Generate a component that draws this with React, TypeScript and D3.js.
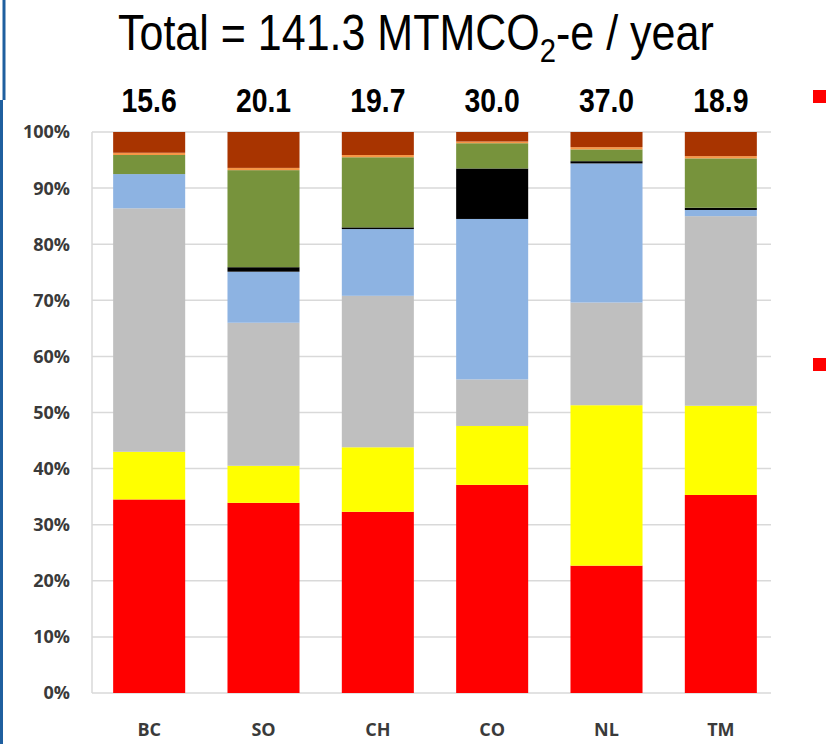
import * as d3 from 'd3';
import React from 'react';

// regions and the yearly totals printed above each bar
const regions = ['BC', 'SO', 'CH', 'CO', 'NL', 'TM'];
const totals = ['15.6', '20.1', '19.7', '30.0', '37.0', '18.9'];

// share of each source, percent, bottom to top
const redPart = [34.5, 33.9, 32.3, 37.1, 22.7, 35.3];
const yellowPart = [8.5, 6.6, 11.5, 10.5, 28.6, 15.9];
const grayPart = [43.4, 25.5, 27.0, 8.3, 18.3, 33.8];
const bluePart = [6.1, 9.1, 11.9, 28.6, 24.8, 1.1];
const blackPart = [0, 0.8, 0.3, 9.0, 0.4, 0.4];
const greenPart = [3.4, 17.3, 12.5, 4.5, 2.1, 8.8];
const orangePart = [0.4, 0.4, 0.4, 0.3, 0.4, 0.4];
const brownPart = [3.7, 6.4, 4.1, 1.7, 2.7, 4.3];

const yTicks = [0, 10, 20, 30, 40, 50, 60, 70, 80, 90, 100];

const keys = ['red', 'yellow', 'gray', 'blue', 'black', 'green', 'orange', 'brown'];
const colors = ['#ff0000', '#ffff00', '#bfbfbf', '#8db3e2', '#000000', '#77933c', '#f79646', '#a83400'];
const parts = [redPart, yellowPart, grayPart, bluePart, blackPart, greenPart, orangePart, brownPart];

const W = 829;
const H = 744;

export default function App() {
  const rows = regions.map((r, i) => {
    const row: any = { region: r };
    keys.forEach((k, j) => { row[k] = parts[j][i]; });
    return row;
  });
  const series = d3.stack().keys(keys)(rows);

  const x = d3.scaleBand().domain(regions).range([92, 778]).paddingInner(0.37).paddingOuter(0.185);
  const y = d3.scaleLinear().domain([0, 100]).range([693, 132]);
  const color = d3.scaleOrdinal<string>().domain(keys).range(colors);

  const sans = '"Liberation Sans", Arial, sans-serif';
  const labelFont = '"Open Sans", sans-serif';
  const narrow = 0.86; // squeeze to mimic a narrow face

  return (
    <div style={{ position: 'absolute', left: 0, top: 0 }}>
      <svg width={W} height={H} style={{ display: 'block', background: '#fff' }}>
        {/* slide edge */}
        <line x1={4} x2={4} y1={0} y2={100} stroke="#1f5f9f" strokeWidth={3} />
        <line x1={1.5} x2={1.5} y1={100} y2={H} stroke="#1f5f9f" strokeWidth={3} />

        <text transform={`translate(118,50) scale(${narrow},1)`} fontFamily={sans} fontSize={50} fill="#000">
          Total = 141.3 MTMCO<tspan dy={12} fontSize={34}>2</tspan><tspan dy={-12}>-e / year</tspan>
        </text>

        {/* gridlines */}
        <g>
          {yTicks.map(t => (
            <line key={t} x1={92} x2={771} y1={y(t)} y2={y(t)} stroke="#d9d9d9" strokeWidth={1.5} />
          ))}
          <line x1={92} x2={92} y1={y(100)} y2={y(0)} stroke="#d9d9d9" strokeWidth={1.5} />
        </g>

        {/* y labels */}
        <g>
          {yTicks.map(t => (
            <text key={t} x={70} y={y(t)} dy="0.36em" textAnchor="end"
              fontFamily={labelFont} fontWeight="bold" fontSize={18} fill="#3a3a3a">
              {t + '%'}
            </text>
          ))}
        </g>

        {/* bars */}
        <g>
          {series.map(s => (
            <g key={s.key} fill={color(s.key)}>
              {s.map((d: any) => (
                <rect key={d.data.region} x={x(d.data.region)} width={x.bandwidth()}
                  y={y(d[1])} height={Math.max(0, y(d[0]) - y(d[1]))} />
              ))}
            </g>
          ))}
        </g>

        {/* totals */}
        <g>
          {regions.map((r, i) => (
            <text key={r}
              transform={`translate(${(x(r) as number) + x.bandwidth() / 2},112) scale(${narrow},1)`}
              textAnchor="middle" fontFamily={sans} fontWeight="bold" fontSize={33} fill="#000">
              {totals[i]}
            </text>
          ))}
        </g>

        {/* x labels */}
        <g>
          {regions.map(r => (
            <text key={r} x={(x(r) as number) + x.bandwidth() / 2} y={736} textAnchor="middle"
              fontFamily={labelFont} fontWeight="bold" fontSize={18} fill="#3a3a3a">
              {r}
            </text>
          ))}
        </g>

        {/* bullet marks at slide edge */}
        <rect x={813} y={90} width={13} height={13} fill="#ff0000" />
        <rect x={813} y={358} width={13} height={13} fill="#ff0000" />
      </svg>
    </div>
  );
}
